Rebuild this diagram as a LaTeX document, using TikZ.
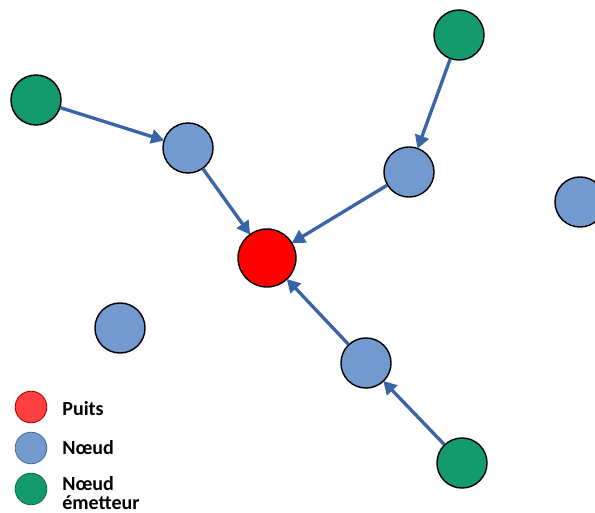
\documentclass[tikz,border=0pt]{standalone}
\usepackage{fontspec}
\setmainfont{Carlito}
\usetikzlibrary{arrows.meta}

\definecolor{puits}{HTML}{FF0000}
\definecolor{noeud}{HTML}{729ACF}
\definecolor{emet}{HTML}{139A6D}
\definecolor{fleche}{HTML}{3A64A8}

\tikzset{
    sommet/.style={circle, draw=black, line width=0.8pt, inner sep=0pt, minimum size=28.5pt},
    puitsnd/.style={sommet, fill=puits, minimum size=33pt},
    noeudnd/.style={sommet, fill=noeud},
    emetnd/.style={sommet, fill=emet},
    lien/.style={draw=fleche, line width=1.9pt, -{Triangle[length=7.5pt, width=8pt]}, shorten >=-0.5pt},
    legende/.style={circle, inner sep=0pt, minimum size=18pt, line width=0.5pt},
    texte/.style={anchor=base west, font=\fontsize{11.4}{10.8}\selectfont\bfseries, inner sep=0pt, align=left}
}

\begin{document}
\begin{tikzpicture}[x=0.02cm, y=-0.02cm]
        % cadre
        \useasboundingbox (0,0) rectangle (595,513);
        \clip (0,0) rectangle (595,513);

        % noeuds
        \node [puitsnd] (P) at (267,258) {};
        \node [noeudnd] (N1) at (188,148) {};
        \node [noeudnd] (N2) at (409,172) {};
        \node [noeudnd] (N3) at (366,363) {};
        \node [noeudnd] (N4) at (120,328) {};
        \node [noeudnd] (N5) at (580,202) {};
        \node [emetnd] (E1) at (36,100) {};
        \node [emetnd] (E2) at (459,35) {};
        \node [emetnd] (E3) at (462,463) {};

        % fleches
        \draw [lien] (E1) -- (N1);
        \draw [lien] (N1) -- (P);
        \draw [lien] (E2) -- (N2);
        \draw [lien] (N2) -- (P);
        \draw [lien] (E3) -- (N3);
        \draw [lien] (N3) -- (P);

        % legende
        \node [legende, fill=puits!75, draw=puits!70!black] (LP) at (31,407) {};
        \node [legende, fill=noeud, draw=noeud!70!black] (LN) at (31,448) {};
        \node [legende, fill=emet, draw=emet!70!black] (LE) at (31,489) {};
        \node [texte] (TP) at (62,415) {Puits};
        \node [texte] (TN) at (62,454) {Nœud};
        \node [texte] (TE) at (62,509) {Nœud\\émetteur};
    \end{tikzpicture}
\end{document}
